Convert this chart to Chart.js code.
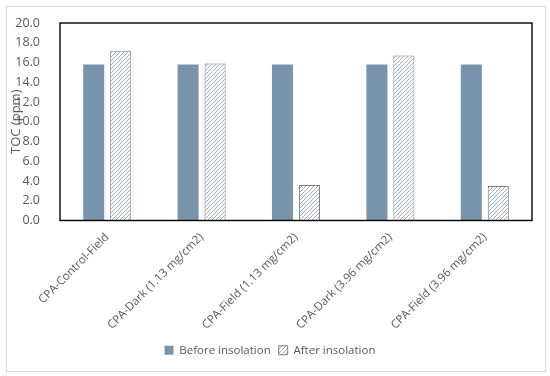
<!DOCTYPE html>
<html>
<head>
<meta charset="utf-8">
<script src="https://cdn.jsdelivr.net/npm/chart.js@4"></script>
<style>
  html, body { margin: 0; padding: 0; background: #fff; }
  #wrap { width: 550px; height: 376px; }
</style>
</head>
<body>
<div id="wrap"><canvas id="tocChart" width="550" height="376"></canvas></div>
<script>
// values
var categories = ['CPA-Control-Field', 'CPA-Dark (1.13 mg/cm2)', 'CPA-Field (1.13 mg/cm2)', 'CPA-Dark (3.96 mg/cm2)', 'CPA-Field (3.96 mg/cm2)'];
var beforeInsolation = [15.8, 15.8, 15.8, 15.8, 15.8];
var afterInsolation = [17.2, 15.9, 3.6, 16.7, 3.5];
var seriesNames = ['Before insolation', 'After insolation'];

var fontFamily = "'Open Sans', sans-serif";
var textColor = '#595959';

// diagonal hatch for the "after" bars
function makeHatch() {
    var c = document.createElement('canvas');
    c.width = 4; c.height = 4;
    var g = c.getContext('2d');
    g.fillStyle = '#fff';
    g.fillRect(0, 0, 4, 4);
    g.strokeStyle = '#9db0c4';
    g.lineWidth = 1;
    g.beginPath();
    g.moveTo(0, 4); g.lineTo(4, 0);
    g.moveTo(-2, 2); g.lineTo(2, -2);
    g.moveTo(2, 6); g.lineTo(6, 2);
    g.stroke();
    return g.createPattern(c, 'repeat');
}
var hatch = makeHatch();

var frames = {
    id: 'frames',
    beforeDraw: function(chart) {
        var ctx = chart.ctx;
        ctx.save();
        ctx.strokeStyle = '#d9d9d9';
        ctx.lineWidth = 1;
        ctx.strokeRect(6.5, 6.5, 539, 365);
        ctx.restore();
    },
    afterDatasetsDraw: function(chart) {
        var a = chart.chartArea, ctx = chart.ctx;
        ctx.save();
        ctx.strokeStyle = '#000';
        ctx.lineWidth = 1.4;
        ctx.strokeRect(a.left, a.top, a.right - a.left, a.bottom - a.top);
        ctx.restore();
    }
};

var canvasEl = document.getElementById('tocChart');
var config = {
    type: 'bar',
    data: {
        labels: categories,
        datasets: [
            {
                label: seriesNames[0],
                data: beforeInsolation,
                backgroundColor: '#7893ac',
                borderWidth: 0
            },
            {
                label: seriesNames[1],
                data: afterInsolation,
                backgroundColor: hatch,
                borderColor: '#7f7f7f',
                borderWidth: 1
            }
        ]
    },
    options: {
        responsive: false,
        animation: false,
        devicePixelRatio: 1,
        datasets: { bar: { categoryPercentage: 0.572, barPercentage: 0.78 } },
        layout: { padding: { left: 8, top: 23, right: 18, bottom: 10 } },
        plugins: {
            legend: {
                position: 'bottom',
                labels: {
                    boxWidth: 9, boxHeight: 9, padding: 8,
                    color: textColor,
                    font: { family: fontFamily, size: 11.5 }
                }
            },
            tooltip: { enabled: false }
        },
        scales: {
            x: {
                grid: { display: false },
                border: { display: false },
                ticks: {
                    autoSkip: false,
                    minRotation: 45, maxRotation: 45,
                    color: textColor, padding: 2,
                    font: { family: fontFamily, size: 11.5 }
                },
                afterFit: function(s) { s.height = 116; }
            },
            y: {
                min: 0, max: 20,
                grid: { display: false },
                border: { display: false },
                ticks: {
                    stepSize: 2,
                    color: textColor, padding: 12,
                    font: { family: fontFamily, size: 12.5 },
                    callback: function(v) { return v.toFixed(1); }
                },
                title: {
                    display: true, text: 'TOC (ppm)',
                    color: textColor, padding: 0,
                    font: { family: fontFamily, size: 13 }
                },
                afterFit: function(s) { s.width = 52; }
            }
        }
    },
    plugins: [frames]
};

var tocChart = new Chart(canvasEl, config);
</script>
</body>
</html>
